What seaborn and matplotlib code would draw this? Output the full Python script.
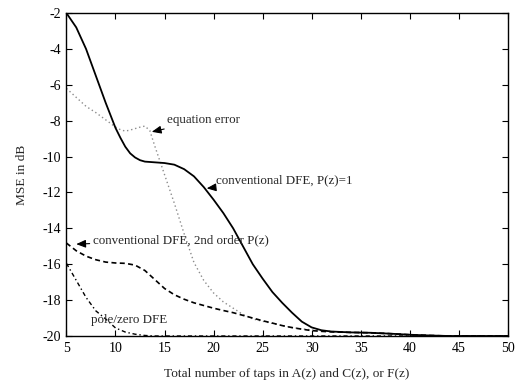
import numpy as np
import pandas as pd
import matplotlib
matplotlib.use("Agg")
import matplotlib.pyplot as plt
import seaborn as sns

# ---- data ----
taps_conv = [5, 6, 7, 8, 9, 10, 10.5, 11, 11.5, 12, 12.5, 13, 14, 15, 16, 17, 18, 19, 20,
             21, 22, 23, 24, 25, 26, 27, 28, 29, 30, 31, 32, 34, 36, 38, 40, 42, 44, 47, 50]
mse_conv = [-2.0, -2.8, -4.0, -5.5, -7.0, -8.4, -8.95, -9.45, -9.82, -10.05, -10.2, -10.28,
            -10.32, -10.36, -10.45, -10.7, -11.1, -11.7, -12.4, -13.15, -14.0, -15.0, -16.0,
            -16.8, -17.55, -18.15, -18.7, -19.2, -19.52, -19.68, -19.75, -19.8, -19.82,
            -19.87, -19.93, -19.97, -20.0, -20.0, -20.0]

taps_eq = [5, 6, 7, 8, 9, 10, 10.5, 11, 11.5, 12, 12.5, 13, 13.5, 14, 15, 16, 17, 18, 19,
           20, 21, 22, 23, 24, 25, 26, 27, 28, 29, 30, 31, 32, 34, 36, 38, 40, 42, 44, 47, 50]
mse_eq = [-6.2, -6.7, -7.2, -7.55, -7.95, -8.35, -8.5, -8.58, -8.52, -8.44, -8.36, -8.3,
          -8.55, -9.4, -11.0, -12.6, -14.3, -15.9, -16.9, -17.6, -18.1, -18.45, -18.8,
          -19.05, -19.18, -19.3, -19.42, -19.53, -19.6, -19.66, -19.71, -19.75, -19.8,
          -19.82, -19.87, -19.93, -19.97, -20.0, -20.0, -20.0]

taps_2nd = [5, 6, 7, 8, 9, 10, 11, 12, 13, 14, 15, 16, 17, 18, 19, 20, 21, 22, 23, 24,
            25, 26, 27, 28, 29, 30, 31, 32, 34, 36, 38, 40, 42, 44, 47, 50]
mse_2nd = [-14.82, -15.25, -15.55, -15.75, -15.88, -15.93, -15.95, -16.05, -16.35, -16.85,
           -17.35, -17.7, -17.95, -18.15, -18.3, -18.45, -18.58, -18.7, -18.85, -19.0,
           -19.15, -19.28, -19.42, -19.53, -19.62, -19.7, -19.74, -19.77, -19.8, -19.82,
           -19.87, -19.93, -19.97, -20.0, -20.0, -20.0]

taps_pz = [5, 6, 7, 8, 9, 10, 11, 12, 13, 14, 16, 20, 30, 40, 50]
mse_pz = [-15.95, -16.9, -17.85, -18.6, -19.05, -19.55, -19.78, -19.9, -19.97, -20.0,
          -20.0, -20.0, -20.0, -20.0, -20.0]

xticks = [5, 10, 15, 20, 25, 30, 35, 40, 45, 50]
yticks = [-2, -4, -6, -8, -10, -12, -14, -16, -18, -20]

labels = {
    "eq": "equation error",
    "conv": "conventional DFE, P(z)=1",
    "2nd": "conventional DFE, 2nd order P(z)",
    "pz": "pole/zero DFE",
}

sns.set_style("white")
plt.rcParams["font.family"] = ["Liberation Serif", "DejaVu Serif"]

fig = plt.figure(figsize=(5.15, 3.84), dpi=100)
ax = fig.add_axes([0.129, 0.125, 0.857, 0.841])

sns.lineplot(x=taps_eq, y=mse_eq, ax=ax, color="#8c8c8c", lw=1.0,
             linestyle=(0, (1, 2)), estimator=None, sort=False)
sns.lineplot(x=taps_2nd, y=mse_2nd, ax=ax, color="black", lw=1.2,
             linestyle=(0, (3, 2)), estimator=None, sort=False)
sns.lineplot(x=taps_pz, y=mse_pz, ax=ax, color="black", lw=1.0,
             linestyle=(0, (3, 2, 1, 2)), estimator=None, sort=False)
sns.lineplot(x=taps_conv, y=mse_conv, ax=ax, color="black", lw=1.3,
             linestyle="-", estimator=None, sort=False)

ax.set_xlim(5, 50)
ax.set_ylim(-20, -2)
ax.set_xticks(xticks)
ax.set_yticks(yticks)
ax.set_xticklabels([str(t) for t in xticks])
ax.set_yticklabels([str(t) for t in yticks])
ax.tick_params(direction="in", length=4, width=0.8, labelsize=10,
               top=True, right=True, bottom=True, left=True, colors="black", pad=4)
for s in ax.spines.values():
    s.set_visible(True)
    s.set_color("black")
    s.set_linewidth(1.0)

ax.set_xlabel("Total number of taps in A(z) and C(z), or F(z)", fontsize=9.6, labelpad=10)
ax.set_ylabel("MSE in dB", fontsize=9.6, labelpad=10)

arrow = dict(arrowstyle="-|>,head_length=0.6,head_width=0.25", color="black",
             lw=0.8, shrinkA=0, shrinkB=0)
fs = 9.4
ax.annotate(labels["eq"], xy=(13.7, -8.62), xytext=(15.3, -7.96),
            fontsize=fs, va="center", ha="left", arrowprops=arrow)
ax.annotate(labels["conv"], xy=(19.3, -11.77), xytext=(20.2, -11.3),
            fontsize=fs, va="center", ha="left", arrowprops=arrow)
ax.annotate(labels["2nd"], xy=(6.0, -14.88), xytext=(7.7, -14.65),
            fontsize=fs, va="center", ha="left", arrowprops=arrow)
ax.text(7.55, -19.1, labels["pz"], fontsize=fs, va="center", ha="left")

fig.savefig("out.png", dpi=100)
